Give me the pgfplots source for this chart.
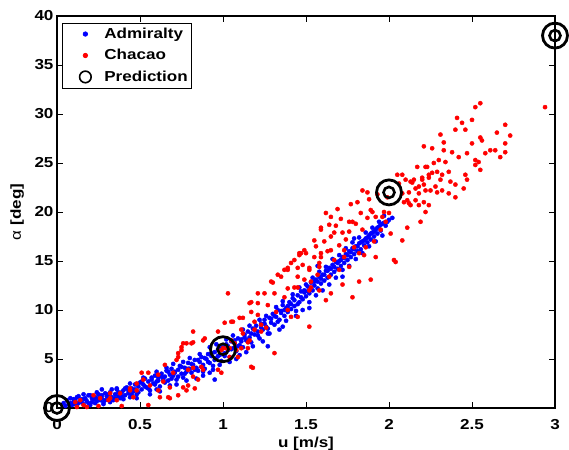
\documentclass[border=0pt]{standalone}
\usepackage{pgfplots}
\pgfplotsset{compat=1.18}
\usepackage{fontspec}
\setmainfont{Liberation Sans}[FakeStretch=1.18]

\newcommand{\lblfont}{\bfseries\fontsize{14.5}{17}\selectfont}

\begin{document}
\begin{tikzpicture}
\begin{axis}[name=ax,
  scale only axis, width=498bp, height=392bp,
  xmin=0, xmax=3, ymin=0, ymax=40,
  xtick={0,0.5,...,3}, ytick={0,5,...,40},
  tick align=inside, major tick length=6bp,
  axis line style={line width=1.4bp},
  every tick/.style={black, line width=0.9bp},
  ticklabel style={font=\lblfont},
  xticklabel style={yshift=-8bp},
  /pgf/number format/assume math mode=true,
  xlabel={u [m/s]}, ylabel={{\mdseries α} [deg]},
  label style={font=\lblfont},
  xlabel style={at={(axis description cs:0.5,-0.09)}, anchor=center},
  ylabel style={at={(axis description cs:-0.08,0.5)}, anchor=center},
  clip=false,
  legend cell align=left,
  legend style={at={(0.01,0.983)}, anchor=north west, draw=black,
    line width=0.8bp, font=\lblfont, inner xsep=2bp, inner ysep=3bp,
    row sep=5.5bp},
]
% Admiralty
\addplot[only marks, blue, mark=*, mark size=2.1bp, mark options={line width=0.4bp},
  legend image code/.code={\path[draw=none] (0,0) -- (38bp,0); \fill[blue] (21bp,0) circle (2.2bp);}]
coordinates {
(0.04,0.5) (0.05,0.2) (0.06,0.8) (0.07,0.4) (0.08,0.5) (0.09,0.3) (0.10,0.9) (0.10,0.6)
(0.11,0.4) (0.12,1.1) (0.13,0.5) (0.14,0.7) (0.15,0.9) (0.16,0.4) (0.17,1.0) (0.18,0.7)
(0.19,0.5) (0.20,1.3) (0.21,0.6) (0.22,0.9) (0.23,1.1) (0.24,0.7) (0.25,1.4) (0.26,0.8)
(0.27,1.0) (0.28,0.6) (0.29,1.5) (0.30,1.2) (0.31,0.9) (0.32,1.6) (0.33,1.1) (0.34,0.8)
(0.35,1.4) (0.36,1.9) (0.37,1.2) (0.38,1.0) (0.39,1.6) (0.40,1.8) (0.41,1.3) (0.42,2.1)
(0.43,1.5) (0.44,1.1) (0.45,2.0) (0.46,1.7) (0.47,2.4) (0.48,1.4) (0.49,2.2) (0.50,2.6)
(0.51,1.9) (0.52,2.4) (0.53,3.0) (0.54,2.1) (0.55,2.7) (0.56,1.8) (0.57,2.9) (0.58,2.5)
(0.59,3.3) (0.60,2.7) (0.61,3.1) (0.62,2.2) (0.63,3.5) (0.64,2.9) (0.65,3.2) (0.66,3.8)
(0.67,2.8) (0.68,3.4) (0.69,4.0) (0.70,3.3) (0.71,3.7) (0.72,2.9) (0.73,3.9) (0.74,4.3)
(0.75,3.5) (0.76,3.1) (0.77,4.1) (0.78,3.7) (0.79,4.6) (0.80,4.0) (0.81,3.6) (0.82,4.4)
(0.83,4.9) (0.84,4.1) (0.85,3.8) (0.86,4.7) (0.87,5.2) (0.88,4.4) (0.89,4.0) (0.90,5.0)
(0.91,5.5) (0.92,4.6) (0.93,5.3) (0.94,4.3) (0.95,5.7) (0.96,5.1) (0.97,6.0) (0.98,5.4)
(0.99,4.8) (1.00,6.2) (1.01,5.6) (1.02,6.5) (1.03,5.9) (1.04,5.2) (1.05,6.8) (1.06,6.1)
(1.07,6.6) (1.08,5.8) (1.09,7.1) (1.10,6.4) (1.11,7.0) (1.12,6.2) (1.13,7.5) (1.14,6.9)
(1.15,7.8) (1.16,7.2) (1.17,6.7) (1.18,8.1) (1.19,7.5) (1.20,8.4) (1.21,7.8) (1.22,7.1)
(1.23,8.6) (1.24,8.0) (1.25,9.0) (1.26,8.3) (1.27,7.6) (1.28,9.2) (1.29,8.7) (1.30,9.6)
(1.31,8.5) (1.32,9.3) (1.33,10.0) (1.34,9.0) (1.35,9.7) (1.36,10.5) (1.37,9.4) (1.38,10.2)
(1.39,9.8) (1.40,10.8) (1.41,10.1) (1.42,11.2) (1.43,10.4) (1.44,9.9) (1.45,11.5) (1.46,10.8)
(1.47,11.9) (1.48,11.1) (1.49,12.0) (1.50,11.4) (1.51,12.4) (1.52,11.7) (1.53,12.8) (1.54,12.0)
(1.55,12.5) (1.56,13.1) (1.57,12.2) (1.58,13.4) (1.59,12.7) (1.60,13.6) (1.61,13.0) (1.62,14.0)
(1.63,13.3) (1.64,14.3) (1.65,13.6) (1.66,14.6) (1.67,13.9) (1.68,14.9) (1.69,14.2) (1.70,15.0)
(1.71,14.5) (1.72,15.4) (1.73,14.8) (1.74,15.7) (1.75,15.1) (1.76,16.0) (1.77,15.4) (1.78,16.3)
(1.79,15.7) (1.80,16.5) (1.81,16.0) (1.82,16.8) (1.83,16.2) (1.84,17.0) (1.85,16.6) (1.86,17.3)
(1.87,16.9) (1.88,17.6) (1.89,17.2) (1.90,17.9) (1.91,17.5) (1.92,18.2) (1.93,17.8) (1.94,18.5)
(1.95,18.1) (1.96,18.8) (1.98,18.6) (2.00,19.2) (2.02,19.4)
(1.27,6.3) (1.36,8.3) (1.52,10.2) (0.92,3.6) (0.60,1.9) (1.10,5.4) (1.72,13.4) (0.27,1.9)
(1.57,14.5) (1.79,17.3) (0.95,2.9) (0.88,3.3)
(0.11,0.8) (0.13,1.2) (0.15,0.6) (0.17,0.9) (0.19,1.3) (0.21,1.0) (0.23,0.5) (0.25,1.0)
(0.27,1.3) (0.29,0.8) (0.31,1.4) (0.33,1.9) (0.35,1.0) (0.37,1.6) (0.39,1.2) (0.41,2.0)
(0.43,1.8) (0.45,1.4) (0.47,1.9) (0.49,1.6) (0.51,2.7) (0.53,2.2) (0.55,2.0) (0.57,3.1)
(0.59,2.4) (0.61,2.8) (0.63,3.2) (0.65,2.6) (0.67,3.7) (0.69,3.0) (0.71,3.6) (0.73,3.2)
(0.75,4.2) (0.77,3.5) (0.79,4.0) (0.81,4.5) (0.83,3.9) (0.85,4.9) (0.87,4.2) (0.89,5.1)
(0.91,4.7) (0.93,5.6) (0.95,4.9) (0.97,5.3) (0.99,6.1) (1.01,5.3) (1.03,6.3) (1.05,6.0)
(1.07,6.9) (1.09,6.3) (1.11,6.8) (1.13,7.2) (1.15,6.9) (1.17,7.6) (1.19,8.0) (1.21,7.4)
(1.23,8.2) (1.25,8.6) (1.27,8.1) (1.29,9.1) (1.31,9.4) (1.33,8.8) (1.35,9.9) (1.37,10.0)
(1.39,10.4) (1.41,10.6) (1.43,11.0) (1.45,10.6) (1.47,11.3) (1.49,11.8) (1.51,11.9) (1.53,12.2)
(1.55,12.9) (1.57,12.9) (1.59,13.2) (1.61,13.6) (1.63,14.0) (1.65,14.2) (1.67,14.4) (1.69,14.8)
(1.71,15.1) (1.73,15.3) (1.75,15.6) (1.77,15.9) (1.79,16.2) (1.81,16.5) (1.83,16.9) (1.85,17.1)
(1.87,17.4) (1.89,17.8) (1.91,18.0) (1.93,18.4) (1.95,18.7) (1.97,18.9) (1.99,19.0)
(0.08,1.0) (0.12,0.2) (0.16,1.4) (0.20,0.3) (0.24,1.6) (0.28,0.4) (0.32,0.6) (0.36,2.0)
(0.40,0.9) (0.44,2.5) (0.48,1.0) (0.52,3.1) (0.56,1.4) (0.60,3.7) (0.62,1.7) (0.66,4.1)
(0.68,2.3) (0.70,4.5) (0.72,2.4) (0.76,4.7) (0.78,2.8) (0.80,5.1) (0.84,3.0) (0.86,5.5)
(0.88,3.7) (0.92,6.2) (0.94,3.9) (0.96,6.5) (0.98,4.4) (1.02,7.0) (1.04,4.7) (1.06,7.4)
(1.08,5.0) (1.12,8.0) (1.14,5.7) (1.16,8.4) (1.18,6.3) (1.22,9.0) (1.24,6.8) (1.26,9.4)
(1.28,7.6) (1.32,10.3) (1.34,8.0) (1.36,10.9) (1.38,8.9) (1.42,11.6) (1.44,9.4) (1.46,12.3)
(1.48,10.0) (1.50,12.6) (1.52,10.8) (1.54,13.3) (1.56,11.5) (1.58,13.9) (1.60,12.0) (1.62,14.4)
(1.64,12.6) (1.66,15.2) (1.68,13.3) (1.70,15.6) (1.72,14.1) (1.74,16.3) (1.76,14.5) (1.78,16.9)
(1.80,15.2) (1.82,17.4) (1.84,15.8) (1.86,17.9) (1.88,16.5) (1.90,18.4) (1.92,17.0) (1.94,19.0)
(1.96,17.6) (1.97,19.6)
};
\addlegendentry{Admiralty}
% Chacao
\addplot[only marks, red, mark=*, mark size=2.1bp, mark options={line width=0.4bp},
  legend image code/.code={\path[draw=none] (0,0) -- (38bp,0); \fill[red] (21bp,0) circle (2.2bp);}]
coordinates {
(0.11,0.6) (0.12,0.1) (0.14,0.8) (0.16,0.3) (0.18,0.1) (0.22,1.3) (0.25,0.2) (0.26,1.0)
(0.31,0.8) (0.32,1.5) (0.32,1.0) (0.36,0.8) (0.38,1.5) (0.39,0.2) (0.44,1.8) (0.44,2.0)
(0.46,1.1) (0.48,1.8) (0.48,2.5) (0.51,3.6) (0.52,2.9) (0.55,3.6) (0.55,0.3) (0.56,2.3)
(0.61,1.8) (0.61,3.4) (0.62,1.1) (0.64,2.7) (0.65,4.4) (0.67,1.1) (0.68,2.1) (0.68,1.0)
(0.70,3.6) (0.72,4.9) (0.73,5.6) (0.73,1.3) (0.73,5.2) (0.75,5.9) (0.75,6.2) (0.76,6.6)
(0.76,2.1) (0.78,6.6) (0.78,1.8) (0.79,3.9) (0.79,2.3) (0.81,6.6) (0.82,7.8) (0.82,4.1)
(0.82,3.2) (0.82,6.7) (0.83,2.0) (0.85,2.9) (0.87,4.2) (0.88,6.9) (0.88,3.9) (0.89,7.1)
(0.97,7.8) (0.97,3.9) (0.99,5.9) (0.99,3.6) (1.00,6.1) (1.01,8.7) (1.02,6.1) (1.03,11.7)
(1.04,6.1) (1.04,5.2) (1.05,6.9) (1.05,8.8) (1.06,8.8) (1.07,6.6) (1.08,5.9) (1.09,5.2)
(1.10,9.2) (1.11,8.0) (1.11,6.1) (1.12,9.2) (1.12,7.6) (1.15,6.1) (1.15,6.7) (1.16,6.9)
(1.16,10.7) (1.17,10.8) (1.17,9.8) (1.17,4.2) (1.18,4.1) (1.19,8.8) (1.19,8.0) (1.21,10.7)
(1.21,9.5) (1.21,11.7) (1.23,8.5) (1.23,7.8) (1.25,11.7) (1.26,8.2) (1.27,10.5) (1.29,12.9)
(1.30,12.8) (1.31,11.7) (1.31,5.6) (1.32,9.8) (1.33,13.6) (1.35,13.4) (1.37,14.1) (1.37,11.3)
(1.39,14.1) (1.39,14.3) (1.39,10.0) (1.39,12.2) (1.41,14.8) (1.41,9.3) (1.43,12.3) (1.45,14.3)
(1.45,9.3) (1.45,12.3) (1.45,13.4) (1.46,15.8) (1.46,15.6) (1.47,15.8) (1.49,16.1) (1.49,13.1)
(1.50,15.8) (1.52,14.1) (1.52,12.0) (1.52,8.3) (1.52,14.3) (1.53,12.3) (1.53,12.9) (1.55,17.1)
(1.55,15.4) (1.58,14.4) (1.58,14.8) (1.58,12.0) (1.59,18.2) (1.59,15.8) (1.59,15.4) (1.59,18.4)
(1.62,11.0) (1.64,18.7) (1.64,13.4) (1.65,19.5) (1.65,17.5) (1.65,16.1) (1.65,11.7) (1.67,17.9)
(1.67,15.1) (1.70,16.6) (1.70,14.1) (1.72,17.9) (1.72,12.6) (1.73,16.1) (1.73,15.4) (1.76,19.0)
(1.76,18.0) (1.76,14.4) (1.78,19.0) (1.78,11.3) (1.79,16.4) (1.82,15.8) (1.82,12.9) (1.84,22.2)
(1.84,18.2) (1.85,15.6) (1.87,22.0) (1.87,19.4) (1.89,20.2) (1.89,13.1) (1.90,20.0) (1.92,19.5)
(1.92,15.4) (1.96,19.5) (1.97,20.0) (1.98,19.0) (2.00,19.9) (2.03,15.1) (2.04,14.9) (2.05,23.8)
(2.06,22.9) (2.08,17.1) (2.08,21.9) (2.08,23.8) (2.09,21.0) (2.10,23.3) (2.11,18.4) (2.11,21.2)
(2.12,22.0) (2.12,20.9) (2.13,23.1) (2.13,20.7) (2.14,23.0) (2.15,23.3) (2.16,21.2) (2.16,22.4)
(2.17,24.6) (2.18,21.9) (2.18,22.6) (2.18,20.7) (2.19,19.0) (2.20,23.3) (2.20,23.5) (2.21,21.0)
(2.21,22.8) (2.21,26.7) (2.22,20.0) (2.22,22.2) (2.22,24.6) (2.23,24.6) (2.24,23.8) (2.24,23.5)
(2.24,20.7) (2.25,22.2) (2.26,26.5) (2.26,24.0) (2.27,25.0) (2.28,22.6) (2.29,24.1) (2.29,22.0)
(2.30,25.3) (2.31,27.9) (2.31,23.3) (2.32,23.8) (2.32,22.2) (2.33,27.1) (2.33,26.3) (2.34,25.1)
(2.36,24.1) (2.36,21.9) (2.37,23.1) (2.38,26.1) (2.40,28.4) (2.40,22.8) (2.40,21.5) (2.41,29.6)
(2.42,25.6) (2.44,29.1) (2.45,22.4) (2.46,28.4) (2.46,23.8) (2.47,26.0) (2.47,23.3) (2.50,29.4)
(2.50,27.0) (2.52,30.7) (2.52,25.3) (2.52,24.8) (2.54,25.1) (2.55,31.1) (2.55,27.6) (2.55,24.3)
(2.56,27.3) (2.58,26.0) (2.61,26.3) (2.64,26.3) (2.65,28.1) (2.67,25.6) (2.70,28.9) (2.70,27.0)
(2.70,26.1) (2.73,27.8) (2.94,30.7)
(1.56,16.5) (1.61,17.0) (1.63,16.0) (1.68,18.6) (1.69,20.3) (1.71,19.3) (1.74,17.2) (1.77,20.8)
(1.80,18.8) (1.81,21.0) (1.83,19.9) (1.86,16.4) (1.88,21.3) (1.91,17.0) (1.93,21.8) (1.95,18.2)
(1.99,21.5) (2.01,17.8) (1.62,19.9) (1.57,13.6) (1.48,14.6) (1.43,15.1)
};
\addlegendentry{Chacao}
% Prediction
\addplot[only marks, mark=o, mark size=5.5bp, line width=2.6bp, black,
  legend image code/.code={\path[draw=none] (0,0) -- (38bp,0); \draw[black, line width=1.6bp] (21bp,0) circle (5.8bp);}]
coordinates {(0,0) (1,6) (2,22) (3,38)};
\addlegendentry{Prediction}
\addplot[only marks, mark=o, mark size=12.5bp, line width=2.8bp, black, forget plot]
coordinates {(0,0) (1,6) (2,22) (3,38)};
\end{axis}
\pgfresetboundingbox
\path ([xshift=-57bp,yshift=-42bp]ax.south west) rectangle ([xshift=14bp,yshift=16bp]ax.north east);
\end{tikzpicture}
\end{document}
